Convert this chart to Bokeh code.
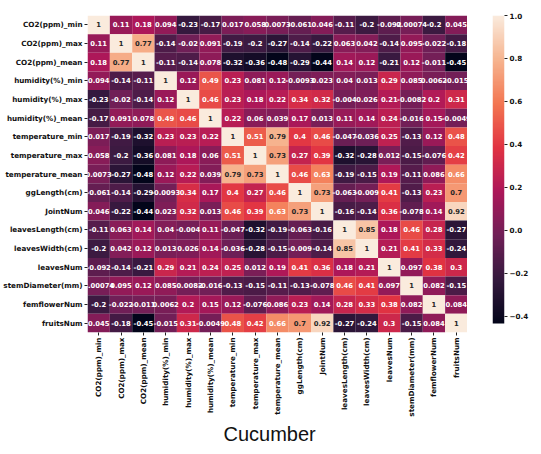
import math
import numpy as np
from bokeh.plotting import figure
from bokeh.layouts import row
from bokeh.models import (ColumnDataSource, LinearColorMapper, FixedTicker, Range1d,
                          Title, FactorRange, CustomJSTickFormatter)
from bokeh.transform import transform
from bokeh.core.properties import value
from bokeh.embed import file_html
from bokeh.resources import INLINE

labels = ["CO2(ppm)_min", "CO2(ppm)_max", "CO2(ppm)_mean", "humidity(%)_min",
          "humidity(%)_max", "humidity(%)_mean", "temperature_min", "temperature_max",
          "temperature_mean", "ggLength(cm)", "JointNum", "leavesLength(cm)",
          "leavesWidth(cm)", "leavesNum", "stemDiameter(mm)", "femflowerNum", "fruitsNum"]

corr = [
    [1, 0.11, 0.18, 0.094, -0.23, -0.17, 0.017, 0.058, 0.0073, -0.061, 0.046, -0.11, -0.2, -0.092, 0.00074, -0.2, 0.045],
    [0.11, 1, 0.77, -0.14, -0.02, 0.091, -0.19, -0.2, -0.27, -0.14, -0.22, 0.063, 0.042, -0.14, 0.095, -0.022, -0.18],
    [0.18, 0.77, 1, -0.11, -0.14, 0.078, -0.32, -0.36, -0.48, -0.29, -0.44, 0.14, 0.12, -0.21, 0.12, -0.011, -0.45],
    [0.094, -0.14, -0.11, 1, 0.12, 0.49, 0.23, 0.081, 0.12, -0.0093, 0.023, 0.04, 0.013, 0.29, 0.085, 0.0062, -0.015],
    [-0.23, -0.02, -0.14, 0.12, 1, 0.46, 0.23, 0.18, 0.22, 0.34, 0.32, -0.004, 0.026, 0.21, -0.0082, 0.2, 0.31],
    [-0.17, 0.091, 0.078, 0.49, 0.46, 1, 0.22, 0.06, 0.039, 0.17, 0.013, 0.11, 0.14, 0.24, -0.016, 0.15, -0.0049],
    [0.017, -0.19, -0.32, 0.23, 0.23, 0.22, 1, 0.51, 0.79, 0.4, 0.46, -0.047, -0.036, 0.25, -0.13, 0.12, 0.48],
    [0.058, -0.2, -0.36, 0.081, 0.18, 0.06, 0.51, 1, 0.73, 0.27, 0.39, -0.32, -0.28, 0.012, -0.15, -0.076, 0.42],
    [0.0073, -0.27, -0.48, 0.12, 0.22, 0.039, 0.79, 0.73, 1, 0.46, 0.63, -0.19, -0.15, 0.19, -0.11, 0.086, 0.66],
    [-0.061, -0.14, -0.29, -0.0093, 0.34, 0.17, 0.4, 0.27, 0.46, 1, 0.73, -0.063, -0.009, 0.41, -0.13, 0.23, 0.7],
    [0.046, -0.22, -0.44, 0.023, 0.32, 0.013, 0.46, 0.39, 0.63, 0.73, 1, -0.16, -0.14, 0.36, -0.078, 0.14, 0.92],
    [-0.11, 0.063, 0.14, 0.04, -0.004, 0.11, -0.047, -0.32, -0.19, -0.063, -0.16, 1, 0.85, 0.18, 0.46, 0.28, -0.27],
    [-0.2, 0.042, 0.12, 0.013, 0.026, 0.14, -0.036, -0.28, -0.15, -0.009, -0.14, 0.85, 1, 0.21, 0.41, 0.33, -0.24],
    [-0.092, -0.14, -0.21, 0.29, 0.21, 0.24, 0.25, 0.012, 0.19, 0.41, 0.36, 0.18, 0.21, 1, 0.097, 0.38, 0.3],
    [0.00074, 0.095, 0.12, 0.085, -0.0082, -0.016, -0.13, -0.15, -0.11, -0.13, -0.078, 0.46, 0.41, 0.097, 1, 0.082, -0.15],
    [-0.2, -0.022, -0.011, 0.0062, 0.2, 0.15, 0.12, -0.076, 0.086, 0.23, 0.14, 0.28, 0.33, 0.38, 0.082, 1, 0.084],
    [0.045, -0.18, -0.45, -0.015, 0.31, -0.0049, 0.48, 0.42, 0.66, 0.7, 0.92, -0.27, -0.24, 0.3, -0.15, 0.084, 1],
]

colorbar_ticks = [-0.4, -0.2, 0.0, 0.2, 0.4, 0.6, 0.8, 1.0]
scale_min, scale_max = -0.434, 1.0   # colour scale limits
title_text = "Cucumber"

# seaborn "rocket" colormap approximated by anchor colours
anchor_pos = [0.0, 1/7, 2/7, 3/7, 4/7, 5/7, 6/7, 1.0]
anchor_hex = ["#03051a", "#35193e", "#701f57", "#ad1759", "#e13342", "#f37651", "#f6b48f", "#faebdd"]

def hex2rgb(h):
    return np.array([int(h[i:i+2], 16) for i in (1, 3, 5)], dtype=float)

anchor_rgb = np.array([hex2rgb(h) for h in anchor_hex])
N = 256
t = np.linspace(0, 1, N)
pal_rgb = np.stack([np.interp(t, anchor_pos, anchor_rgb[:, k]) for k in range(3)], axis=1)
palette = ["#%02x%02x%02x" % tuple(int(round(c)) for c in r) for r in pal_rgb]

low, high = scale_min, scale_max
mapper = LinearColorMapper(palette=palette, low=low, high=high)

def lum(rgb):
    c = rgb / 255.0
    c = np.where(c <= 0.03928, c / 12.92, ((c + 0.055) / 1.055) ** 2.4)
    return 0.2126 * c[0] + 0.7152 * c[1] + 0.0722 * c[2]

xs, ys, vs, txt, tcol = [], [], [], [], []
for i, rl in enumerate(labels):
    for j, cl in enumerate(labels):
        v = corr[i][j]
        xs.append(cl); ys.append(rl); vs.append(v)
        txt.append(format(v, ".2g"))
        idx = int(np.floor((v - low) / (high - low) * N))
        idx = min(max(idx, 0), N - 1)
        tcol.append("#262626" if lum(pal_rgb[idx]) > 0.408 else "#ffffff")

src = ColumnDataSource(dict(x=xs, y=ys, v=vs, txt=txt, tcol=tcol))

H = 446
TOP = 15
FRAME_H = 317
CB_H = 308          # the colour bar is a little shorter than the heatmap
BOTTOM = H - TOP - FRAME_H

p = figure(x_range=FactorRange(factors=labels), y_range=FactorRange(factors=labels[::-1]),
           width=467, height=H, min_border_left=85, min_border_top=TOP,
           min_border_right=0, min_border_bottom=BOTTOM,
           output_backend="svg", toolbar_location=None)

p.rect(x="x", y="y", width=1, height=1, source=src,
       fill_color=transform("v", mapper), line_color=None)
p.text(x="x", y="y", text="txt", source=src, text_color="tcol",
       text_align="center", text_baseline="middle",
       text_font=value("DejaVu Sans"), text_font_size="6.8px", text_font_style="bold")

def style_axis(ax):
    ax.axis_line_color = None
    ax.major_tick_in = 0
    ax.major_tick_out = 3
    ax.major_tick_line_color = "#222222"
    ax.minor_tick_line_color = None
    ax.major_label_text_font = "DejaVu Sans"
    ax.major_label_text_font_size = "7.2px"
    ax.major_label_text_font_style = "bold"
    ax.major_label_text_color = "#111111"
    ax.major_label_standoff = 2

style_axis(p.xaxis[0]); style_axis(p.yaxis[0])
p.xaxis.major_label_orientation = math.pi / 2
p.grid.visible = False
p.outline_line_color = None

p.add_layout(Title(text=title_text, align="left", offset=136, standoff=3,
                   text_font="Liberation Sans", text_font_size="20px",
                   text_font_style="normal", text_color="#111111"), "below")

# colour bar as a separate narrow figure; its frame matches the heatmap frame,
# the bar fills the upper CB_H pixels of it
y_bottom = high - (high - low) * FRAME_H / CB_H
cb = figure(width=64, height=H, x_range=Range1d(0, 1), y_range=Range1d(y_bottom, high),
            min_border_left=25, min_border_right=24, min_border_top=TOP,
            min_border_bottom=BOTTOM,
            y_axis_location="right", output_backend="svg", toolbar_location=None)
cb.image(image=[np.linspace(low, high, N).reshape(-1, 1)], x=0, y=low, dw=1, dh=high - low,
         color_mapper=mapper)
cb.xaxis.visible = False
style_axis(cb.yaxis[0])
cb.yaxis.ticker = FixedTicker(ticks=colorbar_ticks)
cb.yaxis.formatter = CustomJSTickFormatter(code="return tick.toFixed(1).replace('-', '\u2212');")
cb.grid.visible = False
cb.outline_line_color = None

layout = row(p, cb)
open("out.html", "w").write(file_html(layout, INLINE))
